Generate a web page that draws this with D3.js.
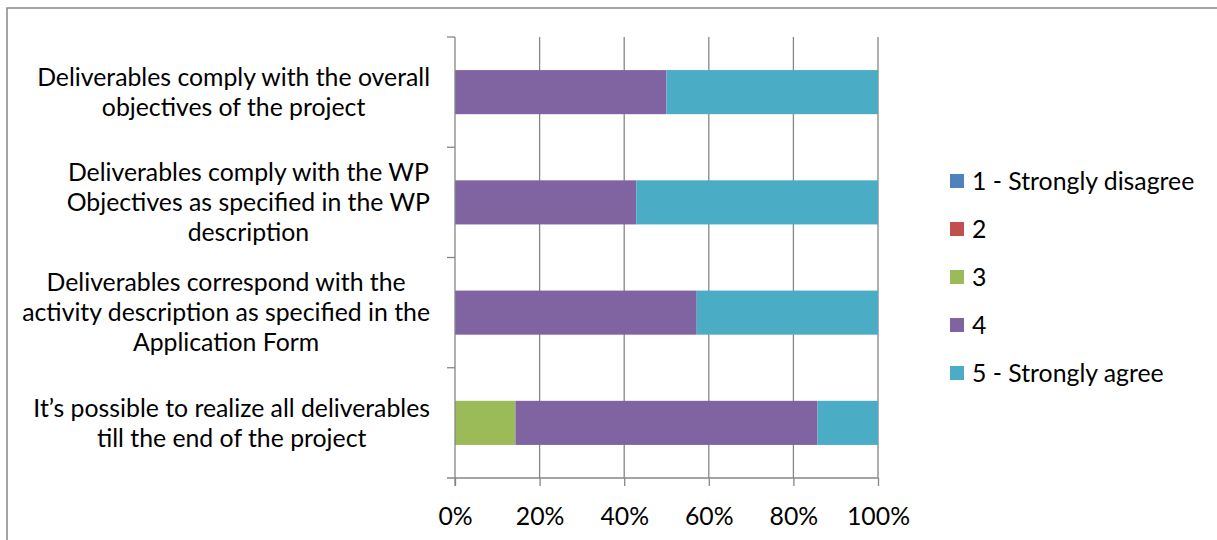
<!DOCTYPE html>
<html><head><meta charset="utf-8">
<script src="https://cdn.jsdelivr.net/npm/d3@7"></script>
<style>body{margin:0;background:#fff}svg{display:block}text{font-family:Lato,"Open Sans",sans-serif;fill:#000}</style>
</head><body>
<svg id="c" width="1217" height="540"></svg>
<script>
const categories = [
  ["Deliverables comply with the overall","objectives of the project"],
  ["Deliverables comply with the WP","Objectives as specified in the WP","description"],
  ["Deliverables correspond with the","activity description as specified in the","Application Form"],
  ["It\u2019s possible to realize all deliverables","till the end of the project"]
];
const seriesNames = ["1 - Strongly disagree","2","3","4","5 - Strongly agree"];
const seriesColors = ["#4F81BD","#C0504D","#9BBB59","#8064A2","#4BACC6"];
const s1 = [0,0,0,0];
const s2 = [0,0,0,0];
const s3 = [0,0,0,1];
const s4 = [1,3,4,5];
const s5 = [1,4,3,1];
const tickValues = [0,0.2,0.4,0.6,0.8,1];

const series = [s1,s2,s3,s4,s5];
const svg = d3.select("#c");
const FS = 24.8;
svg.append("rect").attr("x",7).attr("y",8).attr("width",1230).attr("height",560)
  .attr("fill","none").attr("stroke","#868686").attr("stroke-width",1.5);

const L=455,R=878,T=37,B=478;
const x = d3.scaleLinear().domain([0,1]).range([L,R]);
const y = d3.scaleBand().domain(d3.range(categories.length)).range([T,B]).paddingInner(0.6).paddingOuter(0.3);
const yb = d3.scaleBand().domain(d3.range(categories.length)).range([T,B]);

// gridlines
svg.append("g").selectAll("line").data(tickValues.slice(1)).join("line")
  .attr("x1",d=>x(d)).attr("x2",d=>x(d)).attr("y1",T).attr("y2",B)
  .attr("stroke","#868686").attr("stroke-width",1.3);

// stacked data
const rows = categories.map((c,i)=>{const tot=d3.sum(series,s=>s[i]);const o={};series.forEach((s,k)=>o[k]=s[i]/tot);return o;});
const stack = d3.stack().keys(d3.range(series.length))(rows);
svg.append("g").selectAll("g").data(stack).join("g").attr("fill",(d,k)=>seriesColors[k])
  .selectAll("rect").data(d=>d.map((v,i)=>({v,i}))).join("rect")
  .attr("x",d=>x(d.v[0])).attr("width",d=>x(d.v[1])-x(d.v[0]))
  .attr("y",d=>y(d.i)).attr("height",y.bandwidth());

// axes
const xa = svg.append("g").attr("transform",`translate(0,${B})`)
  .call(d3.axisBottom(x).tickValues(tickValues).tickFormat(d3.format(".0%")).tickSize(8).tickSizeOuter(0));
xa.select(".domain").remove();
xa.selectAll("line").attr("stroke","#868686").attr("stroke-width",1.3);
xa.selectAll("text").attr("font-size",FS).attr("dy",0).attr("y",47).attr("font-family","Lato");
svg.append("line").attr("x1",447).attr("x2",R).attr("y1",B).attr("y2",B).attr("stroke","#868686").attr("stroke-width",1.3);
svg.append("line").attr("x1",L).attr("x2",L).attr("y1",T).attr("y2",B+8).attr("stroke","#868686").attr("stroke-width",1.3);
svg.append("g").selectAll("line").data(d3.range(categories.length)).join("line")
  .attr("x1",447).attr("x2",L).attr("y1",d=>yb(d)).attr("y2",d=>yb(d))
  .attr("stroke","#868686").attr("stroke-width",1.3);

// category labels
const LH=30;
categories.forEach((lines,i)=>{
  const g=svg.append("g");
  const cy=yb(i)+yb.bandwidth()/2;
  const ts=lines.map((t,j)=>g.append("text").attr("font-size",FS).attr("text-anchor","middle")
    .attr("y",cy+(j-(lines.length-1)/2)*LH).attr("dy","0.35em").text(t));
  const w=d3.max(ts,t=>t.node().getComputedTextLength());
  ts.forEach(t=>t.attr("x",430-w/2));
});

// legend
const lg=svg.append("g").selectAll("g").data(seriesNames).join("g")
  .attr("transform",(d,i)=>`translate(950,${181+i*48})`);
lg.append("rect").attr("x",0).attr("y",-7).attr("width",14).attr("height",14).attr("fill",(d,i)=>seriesColors[i]);
lg.append("text").attr("x",22).attr("dy","0.35em").attr("font-size",FS).text(d=>d);
</script>
</body></html>
